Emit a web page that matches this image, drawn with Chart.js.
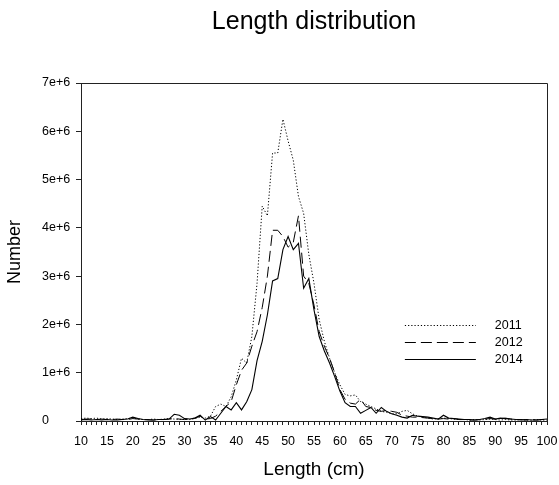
<!DOCTYPE html>
<html>
<head>
<meta charset="utf-8">
<script src="https://cdn.jsdelivr.net/npm/chart.js@4.4.1/dist/chart.umd.min.js"></script>
<style>
  html, body { margin: 0; padding: 0; background: #ffffff; }
  #wrap { width: 559px; height: 485px; }
</style>
</head>
<body>
<div id="wrap"><canvas id="c" width="559" height="485"></canvas></div>
<script>
const lengths = [10,11,12,13,14,15,16,17,18,19,20,21,22,23,24,25,26,27,28,29,30,31,32,33,34,35,36,37,38,39,40,41,42,43,44,45,46,47,48,49,50,51,52,53,54,55,56,57,58,59,60,61,62,63,64,65,66,67,68,69,70,71,72,73,74,75,76,77,78,79,80,81,82,83,84,85,86,87,88,89,90,91,92,93,94,95,96,97,98,99,100];

const n2011 = [
  0.05e6,0.06e6,0.05e6,0.06e6,0.04e6,0.05e6,0.04e6,0.03e6,0.04e6,0.05e6,
  0.06e6,0.04e6,0.03e6,0.03e6,0.04e6,0.03e6,0.04e6,0.05e6,0.04e6,0.03e6,
  0.04e6,0.03e6,0.05e6,0.08e6,0.06e6,0.10e6,0.30e6,0.35e6,0.30e6,0.50e6,
  0.85e6,1.30e6,1.20e6,1.75e6,2.85e6,4.45e6,4.25e6,5.55e6,5.55e6,6.25e6,
  5.80e6,5.40e6,4.65e6,4.30e6,3.45e6,2.85e6,2.10e6,1.65e6,1.30e6,1.00e6,
  0.75e6,0.55e6,0.52e6,0.54e6,0.40e6,0.35e6,0.30e6,0.25e6,0.20e6,0.18e6,
  0.15e6,0.15e6,0.20e6,0.22e6,0.15e6,0.10e6,0.08e6,0.06e6,0.04e6,0.05e6,
  0.06e6,0.05e6,0.04e6,0.03e6,0.03e6,0.02e6,0.03e6,0.02e6,0.03e6,0.04e6,
  0.03e6,0.02e6,0.03e6,0.02e6,0.02e6,0.03e6,0.02e6,0.02e6,0.03e6,0.02e6,0.02e6
];
const n2012 = [
  0.03e6,0.04e6,0.04e6,0.03e6,0.04e6,0.03e6,0.03e6,0.04e6,0.03e6,0.03e6,
  0.05e6,0.04e6,0.03e6,0.03e6,0.02e6,0.03e6,0.03e6,0.04e6,0.05e6,0.04e6,
  0.03e6,0.04e6,0.06e6,0.10e6,0.04e6,0.05e6,0.10e6,0.20e6,0.30e6,0.40e6,
  0.75e6,1.05e6,1.20e6,1.55e6,1.85e6,2.35e6,3.00e6,3.95e6,3.95e6,3.82e6,
  3.60e6,3.70e6,4.25e6,3.00e6,2.85e6,2.40e6,1.85e6,1.55e6,1.30e6,1.00e6,
  0.65e6,0.45e6,0.37e6,0.35e6,0.45e6,0.30e6,0.28e6,0.22e6,0.20e6,0.22e6,
  0.20e6,0.18e6,0.12e6,0.10e6,0.08e6,0.08e6,0.07e6,0.06e6,0.05e6,0.04e6,
  0.05e6,0.04e6,0.05e6,0.03e6,0.03e6,0.02e6,0.02e6,0.03e6,0.04e6,0.05e6,
  0.04e6,0.05e6,0.06e6,0.04e6,0.03e6,0.03e6,0.02e6,0.03e6,0.02e6,0.03e6,0.03e6
];
const n2014 = [
  0.02e6,0.03e6,0.02e6,0.03e6,0.02e6,0.03e6,0.02e6,0.02e6,0.03e6,0.04e6,
  0.08e6,0.05e6,0.03e6,0.02e6,0.02e6,0.03e6,0.03e6,0.04e6,0.14e6,0.12e6,
  0.05e6,0.04e6,0.06e6,0.12e6,0.02e6,0.09e6,0.02e6,0.16e6,0.30e6,0.23e6,
  0.38e6,0.23e6,0.40e6,0.65e6,1.25e6,1.65e6,2.20e6,2.90e6,2.95e6,3.55e6,
  3.82e6,3.55e6,3.68e6,2.75e6,2.95e6,2.30e6,1.75e6,1.45e6,1.20e6,0.92e6,
  0.62e6,0.38e6,0.30e6,0.30e6,0.16e6,0.22e6,0.28e6,0.16e6,0.28e6,0.20e6,
  0.15e6,0.12e6,0.08e6,0.06e6,0.12e6,0.10e6,0.09e6,0.08e6,0.06e6,0.04e6,
  0.12e6,0.06e6,0.05e6,0.04e6,0.03e6,0.03e6,0.02e6,0.03e6,0.05e6,0.08e6,
  0.04e6,0.06e6,0.05e6,0.04e6,0.03e6,0.02e6,0.03e6,0.02e6,0.02e6,0.03e6,0.04e6
];

const seriesNames = ['2011', '2012', '2014'];
const xTickLabels = ['10','15','20','25','30','35','40','45','50','55','60','65','70','75','80','85','90','95','100'];
const yTickLabels = ['0','1e+6','2e+6','3e+6','4e+6','5e+6','6e+6','7e+6'];

const FONT = '"Liberation Sans", Arial, Helvetica, sans-serif';

function pts(arr) { return lengths.map((l, i) => ({ x: l, y: arr[i] })); }

// Frame (top and right edges of the plot box)
const framePlugin = {
  id: 'frame',
  afterDatasetsDraw(chart) {
    const { ctx, chartArea: a } = chart;
    ctx.save();
    ctx.strokeStyle = '#222';
    ctx.lineWidth = 1;
    ctx.beginPath();
    ctx.moveTo(a.left, a.top + 0.5);
    ctx.lineTo(a.right + 0.5, a.top + 0.5);
    ctx.lineTo(a.right + 0.5, a.bottom);
    ctx.stroke();
    ctx.restore();
  }
};

// Legend drawn inside the plot area
const innerLegend = {
  id: 'innerLegend',
  afterDraw(chart) {
    const { ctx, chartArea: a } = chart;
    const x0 = a.left + (a.right - a.left) * 0.695;
    const x1 = x0 + 71;
    const tx = x1 + 19;
    const y0 = a.top + (a.bottom - a.top) * 0.716;
    const dy = 17;
    ctx.save();
    ctx.font = '12.5px ' + FONT;
    ctx.textBaseline = 'middle';
    ctx.textAlign = 'left';
    chart.data.datasets.forEach((ds, i) => {
      const y = Math.round(y0 + i * dy) + 0.5;
      ctx.strokeStyle = ds.borderColor;
      ctx.lineWidth = ds.borderWidth;
      ctx.setLineDash(ds.borderDash || []);
      ctx.beginPath();
      ctx.moveTo(x0, y);
      ctx.lineTo(x1, y);
      ctx.stroke();
      ctx.setLineDash([]);
      ctx.fillStyle = '#000';
      ctx.fillText(ds.label, tx, y);
    });
    ctx.restore();
  }
};

new Chart(document.getElementById('c'), {
  type: 'line',
  data: {
    datasets: [
      { label: seriesNames[0], data: pts(n2011), borderColor: '#000', borderWidth: 1, borderDash: [1.2, 2], pointRadius: 0, tension: 0, fill: false },
      { label: seriesNames[1], data: pts(n2012), borderColor: '#000', borderWidth: 1, borderDash: [11, 5], pointRadius: 0, tension: 0, fill: false },
      { label: seriesNames[2], data: pts(n2014), borderColor: '#000', borderWidth: 1.1, pointRadius: 0, tension: 0, fill: false }
    ]
  },
  options: {
    responsive: false,
    animation: false,
    devicePixelRatio: 1,
    layout: { padding: { left: 42, right: 12, top: 0, bottom: 0 } },
    plugins: {
      legend: { display: false },
      tooltip: { enabled: false },
      title: {
        display: true,
        fullSize: false,
        text: 'Length distribution',
        color: '#000',
        font: { family: FONT, size: 25, weight: 'normal' },
        padding: { top: 7, bottom: 46 }
      }
    },
    scales: {
      x: {
        type: 'linear',
        min: 10,
        max: 100,
        afterFit(scale) { scale.height = 64; scale.paddingRight = 0; scale.paddingLeft = 0; },
        ticks: {
          stepSize: 1,
          maxTicksLimit: 200,
          autoSkip: false,
          maxRotation: 0,
          padding: 9,
          color: '#000',
          font: { family: FONT, size: 12.5 },
          callback: (v) => xTickLabels.includes(String(v)) ? String(v) : ''
        },
        grid: { display: true, drawOnChartArea: false, drawTicks: true, tickLength: 4, color: '#222', lineWidth: 1 },
        border: { display: true, color: '#222', width: 1 },
        title: {
          display: true,
          text: 'Length (cm)',
          color: '#000',
          font: { family: FONT, size: 19, weight: 'normal' },
          padding: { top: 0, bottom: 4 }
        }
      },
      y: {
        min: 0,
        max: 7e6,
        afterFit(scale) { scale.width = 39; },
        ticks: {
          stepSize: 1e6,
          crossAlign: 'far',
          padding: 6,
          color: '#000',
          font: { family: FONT, size: 12.5 },
          callback: (v, i) => yTickLabels[i]
        },
        grid: { display: true, drawOnChartArea: false, drawTicks: true, tickLength: 5, color: '#222', lineWidth: 1 },
        border: { display: true, color: '#222', width: 1 },
        title: {
          display: true,
          text: 'Number',
          color: '#000',
          font: { family: FONT, size: 18, weight: 'normal' },
          padding: { top: -37.8, bottom: 0 }
        }
      }
    }
  },
  plugins: [framePlugin, innerLegend]
});
</script>
</body>
</html>
